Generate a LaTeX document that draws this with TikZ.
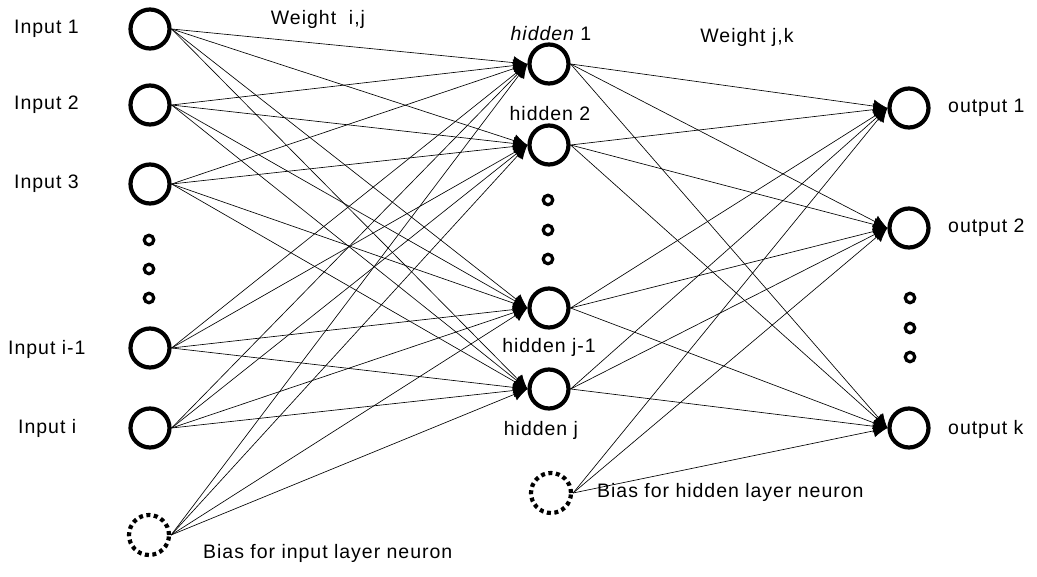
\documentclass[tikz,border=0pt]{standalone}
\usepackage{fontspec}
\setmainfont{Liberation Sans}[LetterSpace=5]
\usetikzlibrary{arrows.meta}
\begin{document}
\begin{tikzpicture}[x=1pt,y=-1pt,
  neuron/.style={circle,draw,line width=4.2pt,minimum size=39pt,inner sep=0pt},
  biasneuron/.style={circle,draw,line width=4.2pt,minimum size=40pt,inner sep=0pt,
    dash pattern=on 4pt off 3.5pt},
  ellip/.style={circle,draw,line width=3.2pt,minimum size=9.5pt,inner sep=0pt},
  synapse/.style={line width=0.65pt,-{Latex[length=14pt,width=13pt]}},
  lbl/.style={font=\fontsize{19.5}{21}\selectfont,inner sep=0pt}
]
\useasboundingbox (0,0) rectangle (1037,577);

% input layer
\node[neuron] (i1) at (150,29) {};
\node[neuron] (i2) at (150,105) {};
\node[neuron] (i3) at (150,184) {};
\node[neuron] (i4) at (150,348) {};
\node[neuron] (i5) at (150,428) {};
\node[biasneuron] (bi) at (149,535) {};
\node[ellip] (di1) at (149,240) {};
\node[ellip] (di2) at (149,269) {};
\node[ellip] (di3) at (149,298) {};

% hidden layer
\node[neuron] (h1) at (549,64) {};
\node[neuron] (h2) at (549,145) {};
\node[neuron] (h3) at (549,308) {};
\node[neuron] (h4) at (549,389) {};
\node[biasneuron] (bh) at (551,493) {};
\node[ellip] (dh1) at (548,200) {};
\node[ellip] (dh2) at (548,230) {};
\node[ellip] (dh3) at (548,259) {};

% output layer
\node[neuron] (o1) at (909,108) {};
\node[neuron] (o2) at (909,228) {};
\node[neuron] (o3) at (909,428) {};
\node[ellip] (do1) at (910,298) {};
\node[ellip] (do2) at (910,328) {};
\node[ellip] (do3) at (910,357) {};

% input -> hidden weights, all meeting at the west point of each hidden neuron
\foreach \s in {i1,i2,i3,i4,i5,bi}
  \foreach \t in {h1,h2,h3,h4}
    \draw[synapse] (\s.east) -- (\t.west);

% hidden -> output weights
\foreach \s in {h1,h2,h3,h4,bh}
  \foreach \t in {o1,o2,o3}
    \draw[synapse] (\s.east) -- (\t.west);

% labels
\node[lbl,anchor=west] (li1) at (14,29) {Input 1};
\node[lbl,anchor=west] (li2) at (14,105) {Input 2};
\node[lbl,anchor=west] (li3) at (14,184) {Input 3};
\node[lbl,anchor=west] (li4) at (8,349) {Input i-1};
\node[lbl,anchor=west] (li5) at (18,428) {Input i};
\node[lbl] (lwij) at (318,19) {Weight\ \ i,j};
\node[lbl] (lh1) at (551,34) {\itshape hidden\upshape\ 1};
\node[lbl] (lh2) at (550,114) {hidden 2};
\node[lbl] (lh3) at (549,347) {hidden j-1};
\node[lbl] (lh4) at (541,430) {hidden j};
\node[lbl] (lwjk) at (747,37) {Weight j,k};
\node[lbl,anchor=west] (lo1) at (948,108) {output 1};
\node[lbl,anchor=west] (lo2) at (948,228) {output 2};
\node[lbl,anchor=west] (lo3) at (948,429) {output k};
\node[lbl,anchor=west] (lbh) at (597,492) {Bias for hidden layer neuron};
\node[lbl,anchor=west] (lbi) at (203,553) {Bias for input layer neuron};
\end{tikzpicture}
\end{document}
